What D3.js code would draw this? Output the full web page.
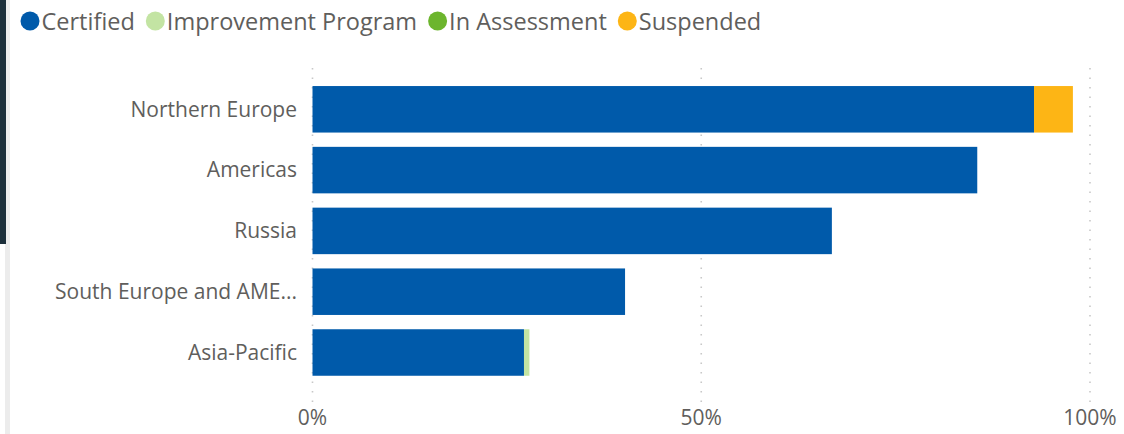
<!DOCTYPE html>
<html>
<head>
<meta charset="utf-8">
<script src="https://cdn.jsdelivr.net/npm/d3@7"></script>
<style>
  html, body { margin:0; padding:0; background:#ffffff; }
  svg text { font-family: "Open Sans", "Noto Sans", sans-serif; }
</style>
</head>
<body>
<script>

//******************************************************************************
// Data ************************************************************************

    var categories = ["Northern Europe", "Americas", "Russia", "South Europe and AME...", "Asia-Pacific"];

    var seriesNames = ["Certified", "Improvement Program", "In Assessment", "Suspended"];
    var seriesColors = ["#005AAA", "#C3E4A3", "#6CB52D", "#FDB515"];

    // share of sites per region (0..1)
    var certified   = [0.928, 0.855, 0.668, 0.402, 0.272];
    var improvement = [0,     0,     0,     0,     0.007];
    var assessment  = [0,     0,     0,     0,     0    ];
    var suspended   = [0.050, 0,     0,     0,     0    ];

    var tickValues = [0, 0.5, 1];
    var tickLabels = ["0%", "50%", "100%"];


//******************************************************************************
// Variables *******************************************************************

    var windowSettings = {
        width : 1124,//px
        height : 434,//px
    };

    var graphSettings = {
        xLeft : 312.5,//px  position of 0%
        xRight : 1090,//px  position of 100%
        yTop : 78.9,//px
        yBottom : 382.9,//px
        gridTop : 68,
        gridBottom : 403,
        labelX : 297,
        tickY : 418,
        textColor : "#605E5C",
        fontSize : 21,
    };

    var legendSettings = {
        x : 30,
        y : 21,
        radius : 9.5,
        textGap : 2,
        itemGap : 11,
        fontSize : 23.5,
    };


//******************************************************************************
// Initialization **************************************************************

    var svg = d3.select("body").append("svg")
        .attr("width", windowSettings.width)
        .attr("height", windowSettings.height);

    var rows = categories.map((c, i) => ({
        category : c,
        "Certified" : certified[i],
        "Improvement Program" : improvement[i],
        "In Assessment" : assessment[i],
        "Suspended" : suspended[i],
    }));

    var xScale = d3.scaleLinear()
        .domain([0, 1])
        .range([graphSettings.xLeft, graphSettings.xRight]);

    var yScale = d3.scaleBand()
        .domain(categories)
        .range([graphSettings.yTop, graphSettings.yBottom])
        .paddingInner(0.235)
        .paddingOuter(0.1175);

    var color = d3.scaleOrdinal().domain(seriesNames).range(seriesColors);


//******************************************************************************
// Prog ************************************************************************

    drawFrame();
    drawGrid();
    drawBars();
    drawCategoryAxis();
    drawLegend();


//******************************************************************************
// Functions *******************************************************************

    function drawFrame(){ // dark edge of the neighbouring panel on the left
        svg.append("rect")
            .attr("x", 5).attr("y", 0)
            .attr("width", 5).attr("height", windowSettings.height)
            .attr("fill", "#ececec");
        svg.append("rect")
            .attr("x", 0).attr("y", 0)
            .attr("width", 6).attr("height", 244)
            .attr("fill", "#1c2f3b");
    }


    function drawGrid(){ // dotted vertical gridlines + percent labels
        var g = svg.append("g");

        g.selectAll("line.grid")
            .data(tickValues)
            .join("line")
            .attr("class", "grid")
            .attr("x1", d => xScale(d))
            .attr("x2", d => xScale(d))
            .attr("y1", graphSettings.gridTop)
            .attr("y2", graphSettings.gridBottom)
            .style("stroke", "#c8c8c8")
            .style("stroke-width", 1.6)
            .style("stroke-dasharray", "1.6,7.9");

        g.selectAll("text.tick")
            .data(tickValues)
            .join("text")
            .attr("class", "tick")
            .attr("x", d => xScale(d))
            .attr("y", graphSettings.tickY)
            .attr("dy", "0.35em")
            .attr("text-anchor", "middle")
            .style("font-size", graphSettings.fontSize + "px")
            .style("fill", graphSettings.textColor)
            .text((d, i) => tickLabels[i]);
    }


    function drawBars(){ // stacked horizontal bars
        var stack = d3.stack().keys(seriesNames)(rows);

        svg.append("g")
            .selectAll("g")
            .data(stack)
            .join("g")
            .attr("fill", d => color(d.key))
            .selectAll("rect")
            .data(d => d.filter(s => s[1] - s[0] > 0))
            .join("rect")
            .attr("x", d => xScale(d[0]))
            .attr("y", d => yScale(d.data.category))
            .attr("width", d => xScale(d[1]) - xScale(d[0]))
            .attr("height", yScale.bandwidth());
    }


    function drawCategoryAxis(){ // region names on the left
        svg.append("g")
            .selectAll("text")
            .data(categories)
            .join("text")
            .attr("x", graphSettings.labelX)
            .attr("y", d => yScale(d) + yScale.bandwidth() / 2)
            .attr("dy", "0.35em")
            .attr("text-anchor", "end")
            .style("font-size", graphSettings.fontSize + "px")
            .style("fill", graphSettings.textColor)
            .text(d => d);
    }


    function drawLegend(){ // legend on top, laid out from measured text widths
        var g = svg.append("g");
        var x = legendSettings.x;

        seriesNames.forEach((name, i) => {
            g.append("circle")
                .attr("cx", x)
                .attr("cy", legendSettings.y)
                .attr("r", legendSettings.radius)
                .attr("fill", seriesColors[i]);

            var t = g.append("text")
                .attr("x", x + legendSettings.radius + legendSettings.textGap)
                .attr("y", legendSettings.y + 1)
                .attr("dy", "0.35em")
                .style("font-size", legendSettings.fontSize + "px")
                .style("fill", graphSettings.textColor)
                .text(name);

            x += legendSettings.radius + legendSettings.textGap + t.node().getComputedTextLength()
                 + legendSettings.itemGap + legendSettings.radius;
        });
    }

</script>
</body>
</html>
